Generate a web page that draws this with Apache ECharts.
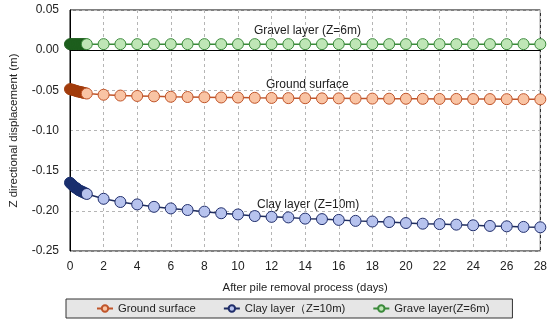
<!DOCTYPE html>
<html><head><meta charset="utf-8">
<script src="https://cdn.jsdelivr.net/npm/echarts@6/dist/echarts.min.js"></script>
<style>html,body{margin:0;padding:0;background:#fff}#c{width:550px;height:326px}</style>
</head><body><div id="c"></div>
<script>
const seriesNames = ['Ground surface', 'Clay layer（Z=10m)', 'Grave layer(Z=6m)'];
const denseDays = [0, 0.1, 0.2, 0.3, 0.4, 0.5, 0.6, 0.7, 0.8, 0.9];
const days = [1,2,3,4,5,6,7,8,9,10,11,12,13,14,15,16,17,18,19,20,21,22,23,24,25,26,27,28];
const groundDense = [-0.0485, -0.049, -0.0497, -0.0503, -0.051, -0.0515, -0.052, -0.0525, -0.053, -0.0535];
const groundValues = [-0.054, -0.0555, -0.0565, -0.057, -0.0575, -0.058, -0.0583, -0.0586, -0.0589, -0.059, -0.0593, -0.0595, -0.0597, -0.0598, -0.06, -0.06, -0.0602, -0.0603, -0.0604, -0.0605, -0.0606, -0.0607, -0.0607, -0.0608, -0.0609, -0.061, -0.061, -0.0612];
const clayDense = [-0.165, -0.167, -0.169, -0.171, -0.172, -0.174, -0.175, -0.176, -0.177, -0.178];
const clayValues = [-0.179, -0.185, -0.189, -0.192, -0.195, -0.197, -0.199, -0.201, -0.203, -0.2045, -0.2065, -0.2075, -0.2082, -0.2097, -0.2103, -0.2113, -0.2125, -0.2133, -0.214, -0.2152, -0.216, -0.2165, -0.2172, -0.218, -0.2188, -0.2193, -0.22, -0.2205];
const gravelDense = [0.0075, 0.0075, 0.0075, 0.0075, 0.0075, 0.0075, 0.0075, 0.0075, 0.0075, 0.0075];
const gravelValues = [0.0075, 0.0075, 0.0075, 0.0075, 0.0075, 0.0075, 0.0075, 0.0075, 0.0075, 0.0075, 0.0075, 0.0075, 0.0075, 0.0075, 0.0075, 0.0075, 0.0075, 0.0075, 0.0075, 0.0075, 0.0075, 0.0075, 0.0075, 0.0075, 0.0075, 0.0075, 0.0075, 0.0075];
const labels = ['Gravel layer (Z=6m)', 'Ground surface', 'Clay layer (Z=10m)'];

function build(dense, vals, darkFill) {
  const out = [];
  dense.forEach((v, i) => out.push({ value: [denseDays[i], v], itemStyle: { color: darkFill, borderColor: darkFill } }));
  vals.forEach((v, i) => out.push({ value: [days[i], v] }));
  return out;
}
const styles = [
  { line: '#c0552a', fill: '#f9c4a4', border: '#c0552a', dark: '#a23c0c' },
  { line: '#1f2d5f', fill: '#b7c3ee', border: '#1f2d6b', dark: '#1a2f6e' },
  { line: '#3a8a3a', fill: '#bfe6b6', border: '#3a8a3a', dark: '#1d5e1d' }
];
const dataSets = [build(groundDense, groundValues, styles[0].dark), build(clayDense, clayValues, styles[1].dark), build(gravelDense, gravelValues, styles[2].dark)];

const chart = echarts.init(document.getElementById('c'), null, { renderer: 'canvas' });
chart.setOption({
  animation: false,
  textStyle: { fontFamily: 'Liberation Sans, Arial, sans-serif' },
  grid: { left: 69, right: 9, top: 10, bottom: 75, show: true, borderColor: '#000', borderWidth: 1 },
  xAxis: {
    type: 'value', min: 0, max: 28, interval: 2,
    name: 'After pile removal process (days)', nameLocation: 'middle', nameGap: 31,
    nameTextStyle: { fontSize: 11.3, color: '#222' },
    axisLine: { lineStyle: { color: '#000' } },
    axisTick: { inside: true, length: 3, lineStyle: { color: '#000' } },
    axisLabel: { fontSize: 12, color: '#222', margin: 10 },
    splitLine: { lineStyle: { color: '#b5b5b5', type: [3, 3] } }
  },
  yAxis: {
    type: 'value', min: -0.25, max: 0.05, interval: 0.05,
    name: 'Z directional displacement (m)', nameLocation: 'middle', nameGap: 50,
    nameTextStyle: { fontSize: 11.5, color: '#222' },
    axisLine: { show: true, lineStyle: { color: '#000' } },
    axisTick: { show: false },
    axisLabel: { fontSize: 12, color: '#222', margin: 11, formatter: v => v.toFixed(2) },
    splitLine: { lineStyle: { color: '#b5b5b5', type: [3, 3] } }
  },
  legend: {
    left: 66, top: 299,
    backgroundColor: '#e6e6e6', borderColor: '#333', borderWidth: 1,
    padding: [4, 23, 4, 30], itemGap: 27, itemWidth: 16, itemHeight: 8,
    textStyle: { fontSize: 11.3, color: '#222' },
    data: seriesNames
  },
  series: dataSets.map((d, i) => ({
    name: seriesNames[i], type: 'line', data: d,
    symbol: 'circle', symbolSize: 11,
    lineStyle: { color: styles[i].line, width: 1.5 },
    itemStyle: { color: styles[i].fill, borderColor: styles[i].border, borderWidth: 1 },
    z: 3 - i
  })),
  graphic: [
    { type: 'text', left: 254, top: 25, style: { text: labels[0], font: '12px Liberation Sans, Arial', fill: '#222' } },
    { type: 'text', left: 266, top: 79, style: { text: labels[1], font: '12px Liberation Sans, Arial', fill: '#222' } },
    { type: 'text', left: 257, top: 199, style: { text: labels[2], font: '12px Liberation Sans, Arial', fill: '#222' } }
  ]
});
</script></body></html>
